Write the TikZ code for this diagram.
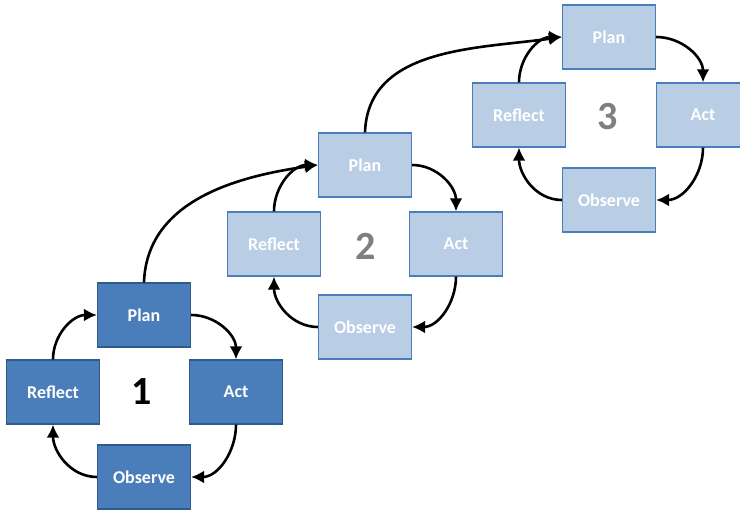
\documentclass[tikz,border=0pt]{standalone}
\usepackage{fontspec}
\setmainfont{Carlito}
\usetikzlibrary{arrows.meta}
\definecolor{darkfill}{HTML}{4A7EBB}
\definecolor{darkline}{HTML}{2E5A8C}
\definecolor{lightfill}{HTML}{B9CDE5}
\definecolor{lightline}{HTML}{4A7EBB}
\definecolor{numgray}{HTML}{7F7F7F}
\begin{document}
\begin{tikzpicture}[x=1pt,y=1pt,
  darkbox/.style={draw=darkline,line width=1.2pt,fill=darkfill,minimum width=93pt,minimum height=64pt,text=white,font=\fontsize{18}{20}\selectfont\bfseries},
  lightbox/.style={draw=lightline,line width=1.2pt,fill=lightfill,minimum width=93pt,minimum height=64pt,text=white,font=\fontsize{18}{20}\selectfont\bfseries},
  cyc/.style={draw,line width=2.6pt,-{Latex[length=13pt,width=13pt]}}]
\useasboundingbox (0,0) rectangle (740,512);

\node[darkbox] (p1) at (144,197) {Plan};
\node[darkbox] (r1) at (53,120) {Reflect};
\node[darkbox] (a1) at (236,120) {Act};
\node[darkbox] (o1) at (144,35) {Observe};
\node[font=\fontsize{40}{42}\selectfont\bfseries] (n1) at (142,120) {1};
\path[cyc] (p1.east) to[out=0,in=90] (a1.north);
\path[cyc] (a1.south) to[out=-90,in=0] (o1.east);
\path[cyc] (o1.west) to[out=180,in=-90] (r1.south);
\path[cyc] (r1.north) to[out=90,in=180] (p1.west);

\node[lightbox] (p2) at (365,347) {Plan};
\node[lightbox] (r2) at (274,268) {Reflect};
\node[lightbox] (a2) at (456,268) {Act};
\node[lightbox] (o2) at (365,185) {Observe};
\node[font=\fontsize{40}{42}\selectfont\bfseries,text=numgray] (n2) at (366,266) {2};
\path[cyc] (p2.east) to[out=0,in=90] (a2.north);
\path[cyc] (a2.south) to[out=-90,in=0] (o2.east);
\path[cyc] (o2.west) to[out=180,in=-90] (r2.south);
\path[cyc] (r2.north) to[out=90,in=180] (p2.west);

\node[lightbox] (p3) at (609,475) {Plan};
\node[lightbox] (r3) at (519,397) {Reflect};
\node[lightbox] (a3) at (703,397) {Act};
\node[lightbox] (o3) at (609,312) {Observe};
\node[font=\fontsize{40}{42}\selectfont\bfseries,text=numgray] (n3) at (608,395) {3};
\path[cyc] (p3.east) to[out=0,in=90] (a3.north);
\path[cyc] (a3.south) to[out=-90,in=0] (o3.east);
\path[cyc] (o3.west) to[out=180,in=-90] (r3.south);
\path[cyc] (r3.north) to[out=90,in=180] (p3.west);

\path[cyc] (p1.north) to[out=88,in=188] (p2.west);
\path[cyc] (p2.north) to[out=88,in=188] (p3.west);
\end{tikzpicture}
\end{document}
